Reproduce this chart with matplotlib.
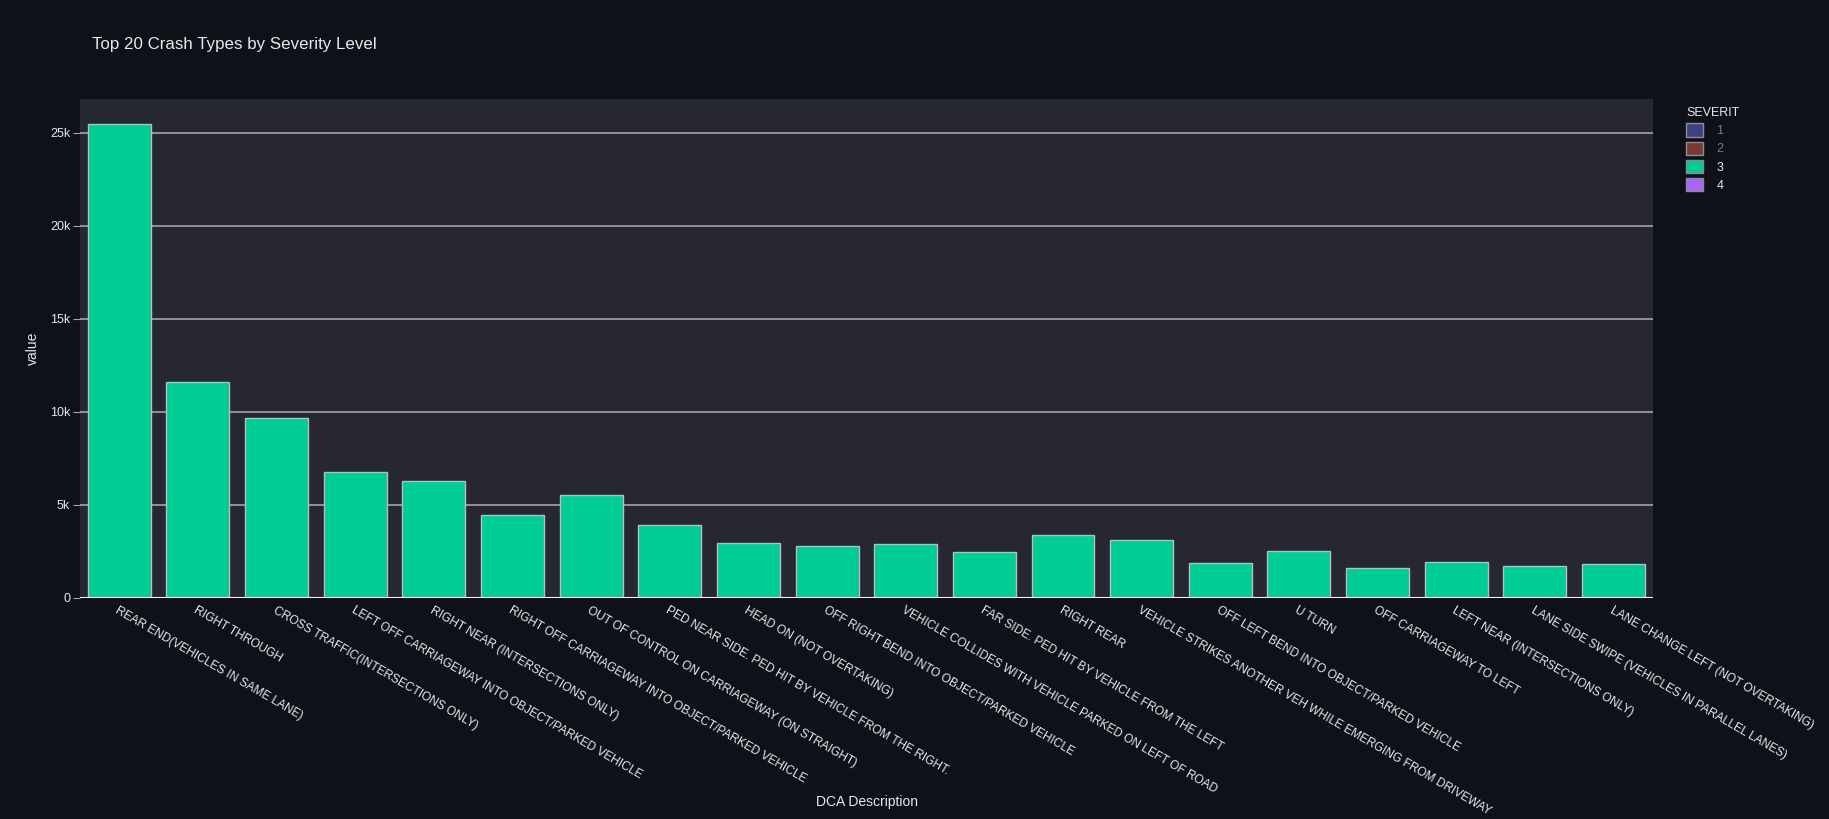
import matplotlib
matplotlib.use("Agg")
import matplotlib.pyplot as plt
from matplotlib.patches import Patch
from matplotlib.ticker import FuncFormatter

plt.rcParams['font.family'] = ['Liberation Sans', 'DejaVu Sans']

crash_types = [
    "REAR END(VEHICLES IN SAME LANE)",
    "RIGHT THROUGH",
    "CROSS TRAFFIC(INTERSECTIONS ONLY)",
    "LEFT OFF CARRIAGEWAY INTO OBJECT/PARKED VEHICLE",
    "RIGHT NEAR (INTERSECTIONS ONLY)",
    "RIGHT OFF CARRIAGEWAY INTO OBJECT/PARKED VEHICLE",
    "OUT OF CONTROL ON CARRIAGEWAY (ON STRAIGHT)",
    "PED NEAR SIDE. PED HIT BY VEHICLE FROM THE RIGHT.",
    "HEAD ON (NOT OVERTAKING)",
    "OFF RIGHT BEND INTO OBJECT/PARKED VEHICLE",
    "VEHICLE COLLIDES WITH VEHICLE PARKED ON LEFT OF ROAD",
    "FAR SIDE. PED HIT BY VEHICLE FROM THE LEFT",
    "RIGHT REAR",
    "VEHICLE STRIKES ANOTHER VEH WHILE EMERGING FROM DRIVEWAY",
    "OFF LEFT BEND INTO OBJECT/PARKED VEHICLE",
    "U TURN",
    "OFF CARRIAGEWAY TO LEFT",
    "LEFT NEAR (INTERSECTIONS ONLY)",
    "LANE SIDE SWIPE (VEHICLES IN PARALLEL LANES)",
    "LANE CHANGE LEFT (NOT OVERTAKING)",
]
# severity 3 counts (severity 1 and 2 hidden in the legend)
severity_3 = [25450, 11580, 9680, 6740, 6250, 4460, 5540, 3910, 2960, 2760,
              2870, 2430, 3350, 3090, 1850, 2510, 1580, 1910, 1730, 1800]
severity_levels = ["1", "2", "3", "4"]
severity_colors = ["#3b4283", "#7b3a31", "#00cc96", "#ab63fa"]
hidden = ["1", "2"]

paper = "#0e1117"
plot_bg = "#262730"
text_c = "#e8e8ec"

fig = plt.figure(figsize=(18.29, 8.19), dpi=100, facecolor=paper)
ax = fig.add_axes([0.0437, 0.2702, 0.8600, 0.6088], facecolor=plot_bg)

x = range(len(crash_types))
ax.bar(x, severity_3, width=0.8, color="#00cc96", edgecolor="#b8bcc4",
       linewidth=1.0, zorder=3)

ax.set_xlim(-0.5, len(crash_types) - 0.5)
ax.set_ylim(0, 26800)
ax.set_yticks([0, 5000, 10000, 15000, 20000, 25000])
ax.yaxis.set_major_formatter(FuncFormatter(lambda v, p: "0" if v == 0 else f"{int(v/1000)}k"))
ax.grid(axis="y", color="#a3a3a8", linewidth=1.2, zorder=1)
ax.axhline(0, color="#f4f4f4", linewidth=2.2, zorder=4)

for s in ax.spines.values():
    s.set_visible(False)

ax.set_xticks(list(x))
ax.set_xticklabels(crash_types, rotation=-30, ha="left", va="top",
                   rotation_mode="anchor", fontsize=8.6, color=text_c)
ax.tick_params(axis="x", length=0, pad=5)
ax.tick_params(axis="y", length=5, color="#a3a3a8", labelsize=9,
               labelcolor=text_c, pad=2)

fig.text(92 / 1829, 1 - 44 / 819, "Top 20 Crash Types by Severity Level",
         fontsize=12.2, color=text_c, va="center", ha="left")
fig.text(867 / 1829, 1 - 802 / 819, "DCA Description", fontsize=10,
         color=text_c, ha="center", va="center")
fig.text(33 / 1829, 1 - 348 / 819, "value", fontsize=10, color=text_c,
         rotation=90, ha="center", va="center")

handles = []
for lvl, col in zip(severity_levels, severity_colors):
    handles.append(Patch(facecolor=col, edgecolor="#8a8d96", linewidth=1.0, label=lvl))
leg = fig.legend(handles=handles, title="SEVERIT", loc="upper left",
                 bbox_to_anchor=(1675 / 1829, 1 - 96 / 819), frameon=False,
                 fontsize=9, title_fontsize=9, handlelength=1.3,
                 handleheight=1.3, handletextpad=1.1, labelspacing=0.33)
leg.get_title().set_color(text_c)
leg._legend_box.align = "left"
for t in leg.get_texts():
    t.set_color("#77787d" if t.get_text() in hidden else text_c)

fig.savefig("out.png", dpi=100, facecolor=paper)
